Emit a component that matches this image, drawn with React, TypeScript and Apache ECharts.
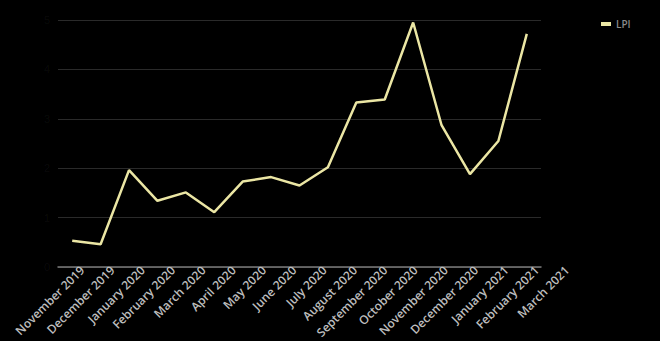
import React, { useEffect, useRef } from "react";
import * as echarts from "echarts";

const months = [
  "November 2019", "December 2019", "January 2020", "February 2020", "March 2020",
  "April 2020", "May 2020", "June 2020", "July 2020", "August 2020",
  "September 2020", "October 2020", "November 2020", "December 2020",
  "January 2021", "February 2021", "March 2021",
];
const lpi = [0.53, 0.46, 1.96, 1.34, 1.51, 1.11, 1.73, 1.82, 1.65, 2.02, 3.33, 3.39, 4.95, 2.87, 1.88, 2.55, 4.72];
const yTicks = [0, 1, 2, 3, 4, 5];

export default function App() {
  const ref = useRef<HTMLDivElement>(null);
  useEffect(() => {
    if (!ref.current) return;
    const chart = echarts.init(ref.current, null, { renderer: "svg" });
    chart.setOption({
      animation: false,
      backgroundColor: "#000000",
      legend: {
        data: ["LPI"],
        left: 596,
        top: 14,
        icon: "rect",
        itemWidth: 10,
        itemHeight: 4,
        itemGap: 6,
        textStyle: { color: "#8a8a8a", fontSize: 10, fontFamily: "Open Sans", fontWeight: 600 },
      },
      grid: [
        { left: 58, right: 119, top: 20, bottom: 74 },
        { left: 67, right: 78, top: 20, bottom: 74 },
      ],
      xAxis: [
        {
          type: "category",
          gridIndex: 0,
          data: months,
          boundaryGap: true,
          axisLine: { show: true, lineStyle: { color: "#7a7a7a", width: 1.5 } },
          axisTick: { show: false },
          axisLabel: { show: false },
        },
        {
          type: "category",
          gridIndex: 1,
          data: months,
          boundaryGap: true,
          axisLine: { show: false },
          axisTick: { show: false },
          axisLabel: {
            rotate: 45,
            interval: 0,
            margin: 11,
            color: "#bdbdbd",
            fontSize: 12,
            fontFamily: "Open Sans",
            fontWeight: 600,
          },
        },
      ],
      yAxis: [
        {
          type: "value",
          gridIndex: 0,
          min: yTicks[0],
          max: yTicks[yTicks.length - 1],
          interval: 1,
          axisLine: { show: false },
          axisTick: { show: false },
          axisLabel: { show: true, color: "rgba(255,255,255,0.05)", fontSize: 11, margin: 8 },
          splitLine: { lineStyle: { color: "#2a2a2a", width: 1 } },
        },
        {
          type: "value",
          gridIndex: 1,
          min: 0,
          max: 5,
          interval: 1,
          show: false,
          splitLine: { show: false },
        },
      ],
      series: [
        {
          name: "LPI",
          type: "line",
          xAxisIndex: 0,
          yAxisIndex: 0,
          data: lpi,
          symbol: "none",
          color: "#ebe6a4",
          lineStyle: { color: "#ebe6a4", width: 2.5 },
        },
      ],
    });
    return () => chart.dispose();
  }, []);
  return (
    <div
      ref={ref}
      style={{ position: "fixed", left: 0, top: 0, width: 660, height: 341, background: "#000" }}
    />
  );
}
